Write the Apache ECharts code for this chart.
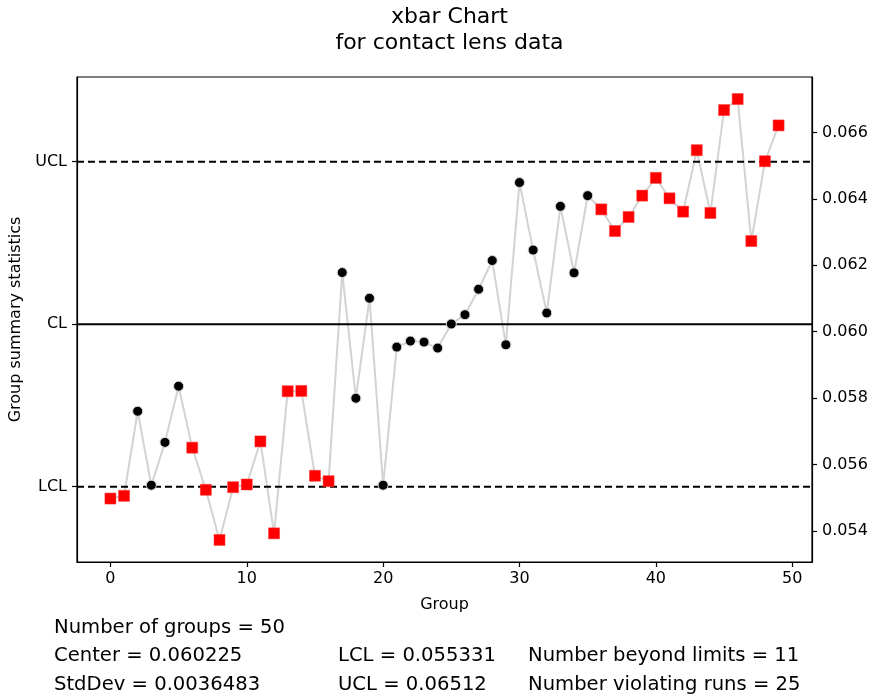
<!DOCTYPE html>
<html>
<head>
<meta charset="utf-8">
<title>xbar Chart</title>
<script src="https://cdn.jsdelivr.net/npm/echarts@6/dist/echarts.min.js"></script>
<style>
  html, body { margin: 0; padding: 0; background: #fff; }
  #chart { width: 875px; height: 698px; }
</style>
</head>
<body>
<div id="chart"></div>
<script>
// Group index of each subgroup mean
const groups = [0, 1, 2, 3, 4, 5, 6, 7, 8, 9,
  10, 11, 12, 13, 14, 15, 16, 17, 18, 19,
  20, 21, 22, 23, 24, 25, 26, 27, 28, 29,
  30, 31, 32, 33, 34, 35, 36, 37, 38, 39,
  40, 41, 42, 43, 44, 45, 46, 47, 48, 49];

// Subgroup means (xbar) for the contact lens data
const xbar = [
  0.054974, 0.055056, 0.057603, 0.055376, 0.056666, 0.058358, 0.056506, 0.055237, 0.053727, 0.055316,
  0.055397, 0.056696, 0.053926, 0.058207, 0.058216, 0.055660, 0.055497, 0.061781, 0.057995, 0.061007,
  0.055376, 0.059536, 0.059717, 0.059687, 0.059506, 0.060231, 0.060512, 0.061279, 0.062143, 0.059606,
  0.064491, 0.062458, 0.060563, 0.063775, 0.061772, 0.064098, 0.063684, 0.063032, 0.063455, 0.064098,
  0.064633, 0.064017, 0.063615, 0.065467, 0.063575, 0.066675, 0.067007, 0.062730, 0.065134, 0.066213
];

// Groups flagged as beyond limits or part of a violating run
const flagged = [0, 1, 6, 7, 8, 9, 10, 11, 12, 13, 14, 15, 16,
  36, 37, 38, 39, 40, 41, 42, 43, 44, 45, 46, 47, 48, 49];

// Control limits
const center = 0.060225;
const lcl = 0.055331;
const ucl = 0.06512;
const limitNames = ['LCL', 'CL', 'UCL'];
const limitValues = [lcl, center, ucl];

// Tick labels
const xTicks = [0, 10, 20, 30, 40, 50];
const yTicks = [0.054, 0.056, 0.058, 0.060, 0.062, 0.064, 0.066];

// Summary lines below the plot (three columns)
const statsCol1 = ['Number of groups = 50', 'Center = 0.060225', 'StdDev = 0.0036483'];
const statsCol2 = ['', 'LCL = 0.055331', 'UCL = 0.06512'];
const statsCol3 = ['', 'Number beyond limits = 11', 'Number violating runs = 25'];

const FONT = 'DejaVu Sans';
const xMin = -2.45, xMax = 51.45;
const yMin = 0.053063, yMax = 0.067671;

const flagSet = new Set(flagged);
const allPts = groups.map((g, i) => [g, xbar[i]]);
const okPts = groups.filter(g => !flagSet.has(g)).map(g => [g, xbar[g]]);
const badPts = groups.filter(g => flagSet.has(g)).map(g => [g, xbar[g]]);

const statsLines = [];
const lineY = [630, 658, 687];
[[statsCol1, 54], [statsCol2, 338], [statsCol3, 528]].forEach(([col, x]) => {
  col.forEach((txt, r) => {
    if (!txt) return;
    statsLines.push({
      type: 'text', left: x, top: lineY[r] - 12,
      style: { text: txt, fontFamily: FONT, fontSize: 19.6, fill: '#000' }
    });
  });
});

// Horizontal control-limit lines spanning the full plot width
const limitSeries = limitValues.map((v, i) => ({
  type: 'line', yAxisIndex: 0, symbol: 'none', silent: true,
  data: [[xMin, v], [xMax, v]],
  lineStyle: { color: '#000', width: 2, type: limitNames[i] === 'CL' ? 'solid' : [7, 4] },
  z: 3
}));

const chart = echarts.init(document.getElementById('chart'), null, { renderer: 'canvas' });

const tickLabelStyle = { fontFamily: FONT, fontSize: 16, color: '#000' };

chart.setOption({
  animation: false,
  backgroundColor: '#fff',
  title: {
    text: 'xbar Chart\nfor contact lens data',
    left: 444.5, top: -1, textAlign: 'center',
    textStyle: { fontFamily: FONT, fontSize: 22, fontWeight: 'normal', color: '#000', lineHeight: 26 }
  },
  grid: {
    left: 77, right: 63, top: 77, bottom: 136,
    show: true, borderColor: '#000', borderWidth: 1.2, backgroundColor: '#fff'
  },
  xAxis: {
    type: 'value', min: xMin, max: xMax,
    name: 'Group', nameLocation: 'middle', nameGap: 35,
    nameTextStyle: { fontFamily: FONT, fontSize: 16, color: '#000' },
    splitLine: { show: false },
    axisLine: { show: true, onZero: false, lineStyle: { color: '#000', width: 1.2 } },
    axisTick: { show: true, inside: false, length: 5, customValues: xTicks, lineStyle: { color: '#000', width: 1.2 } },
    axisLabel: { customValues: xTicks, margin: 9, ...tickLabelStyle }
  },
  yAxis: [
    {
      type: 'value', min: yMin, max: yMax, position: 'left',
      name: 'Group summary statistics', nameLocation: 'middle', nameGap: 44, nameRotate: 90,
      nameTextStyle: { fontFamily: FONT, fontSize: 16, color: '#000' },
      splitLine: { show: false },
      axisLine: { show: true, onZero: false, lineStyle: { color: '#000', width: 1.2 } },
      axisTick: { show: true, inside: false, length: 5, customValues: limitValues, lineStyle: { color: '#000', width: 1.2 } },
      axisLabel: {
        customValues: limitValues, margin: 10, ...tickLabelStyle,
        formatter: (v) => {
          let best = 0;
          limitValues.forEach((lv, i) => {
            if (Math.abs(lv - v) < Math.abs(limitValues[best] - v)) best = i;
          });
          return limitNames[best];
        }
      }
    },
    {
      type: 'value', min: yMin, max: yMax, position: 'right',
      splitLine: { show: false },
      axisLine: { show: true, onZero: false, lineStyle: { color: '#000', width: 1.2 } },
      axisTick: { show: true, inside: false, length: 5, customValues: yTicks, lineStyle: { color: '#000', width: 1.2 } },
      axisLabel: { customValues: yTicks, margin: 10, ...tickLabelStyle, formatter: (v) => v.toFixed(3) }
    }
  ],
  series: [
    {
      // connecting line of group means
      type: 'line', data: allPts, yAxisIndex: 0,
      showSymbol: false, symbol: 'none',
      lineStyle: { color: '#d3d3d3', width: 2 },
      z: 2
    },
    ...limitSeries,
    {
      // in-control group means
      type: 'scatter', data: okPts, yAxisIndex: 0,
      symbol: 'circle', symbolSize: 10,
      itemStyle: { color: '#000', borderColor: '#dcdcdc', borderWidth: 1, opacity: 1 },
      z: 4
    },
    {
      // flagged group means
      type: 'scatter', data: badPts, yAxisIndex: 0,
      symbol: 'rect', symbolSize: 11,
      itemStyle: { color: '#ff0000', borderColor: '#ff3030', borderWidth: 0.5, opacity: 1 },
      z: 4
    }
  ],
  graphic: statsLines
});
</script>
</body>
</html>
